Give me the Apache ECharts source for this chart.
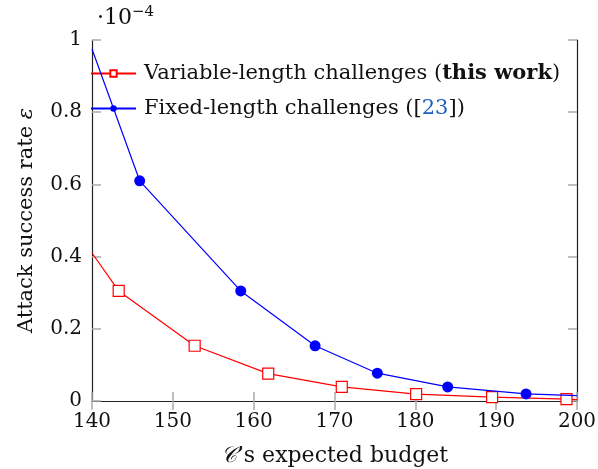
<!DOCTYPE html>
<html>
<head>
<meta charset="utf-8">
<script src="https://cdn.jsdelivr.net/npm/echarts@6/dist/echarts.min.js"></script>
<style>
  html, body { margin: 0; padding: 0; background: #fff; }
  #chart { width: 598px; height: 469px; }
</style>
</head>
<body>
<div id="chart"></div>
<script>
// budget (x) and attack success rate (y, in units of 1e-4)
// first / last entries are where the lines leave the plot box (no marker)
var varBudget = [140, 143.3, 152.7, 161.8, 170.9, 180.1, 189.5, 198.7, 200]
var varRate = [0.41, 0.305, 0.153, 0.076, 0.039, 0.019, 0.0105, 0.005, 0.004]
var fixBudget = [140, 145.9, 158.4, 167.6, 175.3, 184.0, 193.7, 200]
var fixRate = [0.975, 0.61, 0.305, 0.153, 0.077, 0.039, 0.0195, 0.015]
var xTicks = [140, 150, 160, 170, 180, 190, 200]
var yTicks = [0, 0.2, 0.4, 0.6, 0.8, 1]

var serif = 'DejaVu Serif'
var ink = '#111'

function pairs(xs, ys) {
  return xs.map(function (x, i) {
    var p = { value: [x, ys[i]] }
    if (i === 0 || i === xs.length - 1) p.symbol = 'none'
    return p
  })
}

var tickStyle = { show: true, inside: true, length: 9, lineStyle: { color: '#aaa', width: 1.5 } }
var lineStyle = { show: true, lineStyle: { color: '#222', width: 1.2 } }

var chart = echarts.init(document.getElementById('chart'))
chart.setOption({
  animation: false,
  backgroundColor: '#fff',
  grid: { left: 92, right: 21, top: 40, bottom: 68, outerBoundsMode: 'none', containLabel: false },
  legend: {
    left: 85,
    top: 58,
    orient: 'vertical',
    itemWidth: 45,
    itemHeight: 8,
    itemGap: 14,
    textStyle: {
      fontFamily: serif,
      fontSize: 21,
      color: ink,
      padding: [0, 0, 0, 3],
      rich: {
        b: { fontFamily: serif, fontSize: 21, fontWeight: 'bold', color: ink },
        c: { fontFamily: serif, fontSize: 21, color: '#1f5fbf' }
      }
    },
    formatter: function (name) {
      if (name === 'var') return 'Variable-length challenges ({b|this work})'
      return 'Fixed-length challenges ([{c|23}])'
    },
    data: ['var', 'fix']
  },
  xAxis: [{
    type: 'value',
    min: 140, max: 200, interval: 10,
    name: '{i|𝒞}’s expected budget',
    nameLocation: 'middle',
    nameGap: 44,
    nameTextStyle: {
      fontFamily: serif, fontSize: 22, color: ink,
      rich: { i: { fontFamily: serif, fontSize: 22, fontStyle: 'italic', color: ink } }
    },
    axisLine: lineStyle,
    axisTick: tickStyle,
    splitLine: { show: false },
    axisLabel: {
      fontFamily: serif, fontSize: 20, color: ink, margin: 11,
      formatter: function (v) { return xTicks.indexOf(v) >= 0 ? String(v) : '' }
    }
  }, {
    type: 'value', position: 'top',
    min: 140, max: 200, interval: 10,
    axisLine: lineStyle, axisTick: tickStyle,
    axisLabel: { show: false }, splitLine: { show: false }
  }],
  yAxis: [{
    type: 'value',
    min: 0, max: 1, interval: 0.2,
    name: 'Attack success rate {i|ε}',
    nameLocation: 'middle',
    nameGap: 55,
    nameTextStyle: {
      fontFamily: serif, fontSize: 21, color: ink,
      rich: { i: { fontFamily: serif, fontSize: 21, fontStyle: 'italic', color: ink } }
    },
    axisLine: lineStyle,
    axisTick: tickStyle,
    splitLine: { show: false },
    axisLabel: {
      fontFamily: serif, fontSize: 20, color: ink, margin: 10,
      formatter: function (v) {
        var t = yTicks.filter(function (k) { return Math.abs(k - v) < 1e-9 })
        return t.length ? String(t[0]) : ''
      }
    }
  }, {
    type: 'value', position: 'right',
    min: 0, max: 1, interval: 0.2,
    axisLine: lineStyle, axisTick: tickStyle,
    axisLabel: { show: false }, splitLine: { show: false }
  }],
  graphic: [{
    type: 'text',
    left: 97,
    top: 5,
    style: {
      text: '·10{s|−4}',
      fontFamily: serif,
      fontSize: 22,
      fill: ink,
      rich: { s: { fontFamily: serif, fontSize: 15, fill: ink, verticalAlign: 'top', padding: [0, 0, 12, 0] } }
    }
  }],
  series: [{
    name: 'var',
    type: 'line',
    data: pairs(varBudget, varRate),
    symbol: 'rect',
    symbolSize: 11,
    itemStyle: { color: '#fff', borderColor: '#ff0000', borderWidth: 1.2 },
    lineStyle: { color: '#ff0000', width: 1.2 },
    z: 3
  }, {
    name: 'fix',
    type: 'line',
    data: pairs(fixBudget, fixRate),
    symbol: 'circle',
    symbolSize: 11,
    itemStyle: { color: '#0000ff' },
    lineStyle: { color: '#0000ff', width: 1.2 },
    z: 4
  }]
})
</script>
</body>
</html>
